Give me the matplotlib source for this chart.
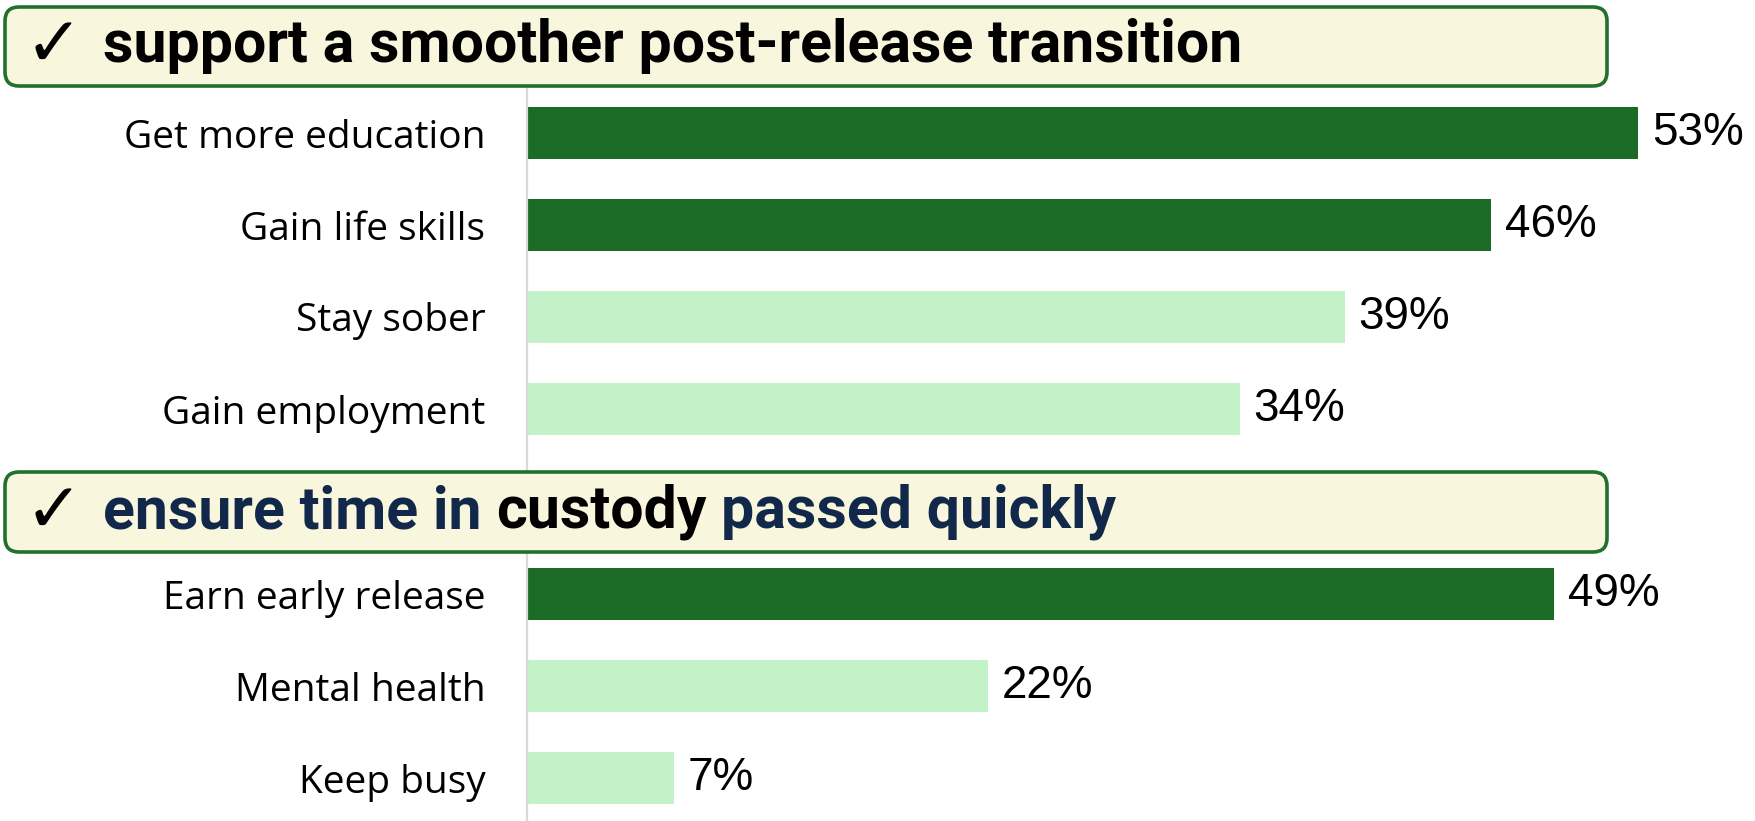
import matplotlib
matplotlib.use('Agg')
import matplotlib.pyplot as plt
from matplotlib.patches import FancyBboxPatch
from matplotlib.transforms import IdentityTransform

W, H = 1756, 821

# data
top_labels = ['Get more education', 'Gain life skills', 'Stay sober', 'Gain employment']
top_values = [53, 46, 39, 34]
top_dark = [True, True, False, False]

bottom_labels = ['Earn early release', 'Mental health', 'Keep busy']
bottom_values = [49, 22, 7]
bottom_dark = [True, False, False]

header_top = [('support a smoother post-release transition', 'black')]
header_bottom = [('ensure time in', '#12284a'), ('custody', 'black'), ('passed quickly', '#12284a')]

DARK = '#1b6b26'
LIGHT = '#c3f1c8'
LABEL_FONT = 'Open Sans'
VALUE_FONT = 'Liberation Sans'
HEAD_FONT = 'Roboto'
HEAD_SIZE = 42.5

fig = plt.figure(figsize=(W / 100, H / 100), dpi=100)


def make_axes(top_px, bottom_px, first_center_px):
    ax = fig.add_axes([527 / W, 1 - bottom_px / H, 1216 / W, (bottom_px - top_px) / H])
    step = 92
    y_top = (top_px - first_center_px) / step
    y_bot = (bottom_px - first_center_px) / step
    ax.set_ylim(y_bot, y_top)
    ax.set_xlim(0, 58)
    return ax


def draw_group(ax, labels, values, dark):
    pos = list(range(len(labels)))
    colors = [DARK if d else LIGHT for d in dark]
    ax.barh(pos, values, height=0.555, color=colors)
    for p, v in zip(pos, values):
        ax.annotate(f'{v}%', (v, p), xytext=(10, 0), textcoords='offset points',
                    va='center', ha='left', fontsize=33, family=VALUE_FONT,
                    annotation_clip=False)
    ax.set_yticks(pos)
    ax.set_yticklabels(labels, fontsize=28, family=LABEL_FONT)
    ax.tick_params(axis='y', length=0, pad=30)
    ax.set_xticks([])
    for s in ['top', 'right', 'bottom']:
        ax.spines[s].set_visible(False)
    ax.spines['left'].set_color('#d9d9d9')
    ax.spines['left'].set_linewidth(1.6)
    ax.patch.set_visible(False)


def draw_header(top_px, bottom_px, pieces):
    box = FancyBboxPatch((5, H - bottom_px), 1602, bottom_px - top_px,
                         boxstyle='round,pad=0,rounding_size=14',
                         transform=IdentityTransform(), facecolor='#f8f6dd',
                         edgecolor='#22702e', linewidth=2.6)
    fig.add_artist(box)
    cy = H - (top_px + bottom_px) / 2
    fig.text(25 / W, cy / H, '\u2713', fontsize=50, family='DejaVu Sans',
             va='center', ha='left', color='black')
    r = fig.canvas.get_renderer()
    # width of a space in the header font
    a = fig.text(0, 0, 'aa', fontsize=HEAD_SIZE, weight='bold', family=HEAD_FONT)
    b = fig.text(0, 0, 'a a', fontsize=HEAD_SIZE, weight='bold', family=HEAD_FONT)
    space = b.get_window_extent(r).width - a.get_window_extent(r).width
    a.remove()
    b.remove()
    x = 103
    for txt, col in pieces:
        t = fig.text(x / W, cy / H, txt, fontsize=HEAD_SIZE, weight='bold', family=HEAD_FONT,
                     color=col, va='center', ha='left')
        x = t.get_window_extent(r).x1 + space


ax1 = make_axes(87, 472, 133)
draw_group(ax1, top_labels, top_values, top_dark)
ax2 = make_axes(552, 821, 594)
draw_group(ax2, bottom_labels, bottom_values, bottom_dark)

draw_header(7, 86, header_top)
draw_header(472, 552, header_bottom)

fig.savefig('out.png', dpi=100)
